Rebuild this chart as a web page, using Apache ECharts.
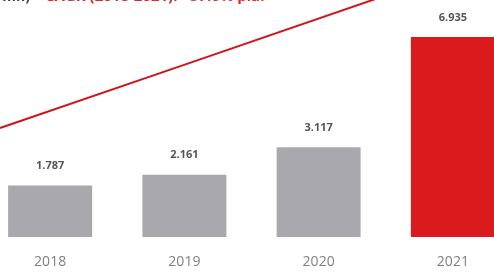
<!DOCTYPE html>
<html><head><meta charset="utf-8">
<script src="https://cdn.jsdelivr.net/npm/echarts@6/dist/echarts.min.js"></script>
<style>html,body{margin:0;padding:0;background:#fff;overflow:hidden;width:494px;height:273px}#c{width:537px;height:273px;margin-left:-17px}</style>
</head><body><div id="c"></div>
<script>
const categories = ['2018', '2019', '2020', '2021'];
const values = [1.787, 2.161, 3.117, 6.935];
const labels = ['1.787', '2.161', '3.117', '6.935'];
const barColors = ['#a9a9ad', '#a9a9ad', '#a9a9ad', '#da1a1c'];
// growth arrow path, x in category units, y in value units
const arrowX = [-0.373, 1.041, 2.57];
const arrowY = [3.78, 6.04, 8.49];

const chart = echarts.init(document.getElementById('c'));
chart.setOption({
  animation: false,
  backgroundColor: '#fff',
  grid: { left: 0, right: 0, top: 0, bottom: 36 },
  xAxis: [
    { type: 'category', data: categories, axisLine: { show: false }, axisTick: { show: false },
      axisLabel: { color: '#808080', fontSize: 14, margin: 18, fontFamily: 'Open Sans' } },
    { type: 'value', min: -0.5, max: 3.5, show: false }
  ],
  yAxis: { type: 'value', min: 0, max: 8.22, show: false },
  series: [
    { type: 'bar', data: values.map((v, i) => ({ value: v, itemStyle: { color: barColors[i] },
        label: { formatter: labels[i] } })),
      barWidth: 84,
      label: { show: true, position: 'top', distance: 14, color: '#555', fontSize: 11,
        fontWeight: 'bold', fontFamily: 'Open Sans' } },
    { type: 'line', xAxisIndex: 1, data: arrowX.map((x, i) => [x, arrowY[i]]), smooth: false,
      clip: false, symbol: 'none', lineStyle: { color: '#d0141a', width: 2 } }
  ],
  graphic: [
    { type: 'text', x: 47, y: 4, style: { text: 'Sales (EUR mn)', fill: '#444', fontSize: 14, fontWeight: 'bold', fontFamily: 'Open Sans', align: 'right', verticalAlign: 'bottom' } },
    { type: 'text', x: 62, y: 4, style: { text: 'CAGR (2018-2021): +57.6% p.a.', fill: '#e0282a', fontSize: 15, fontWeight: 'bold', fontFamily: 'Open Sans', align: 'left', verticalAlign: 'bottom' } }
  ]
});
</script></body></html>
